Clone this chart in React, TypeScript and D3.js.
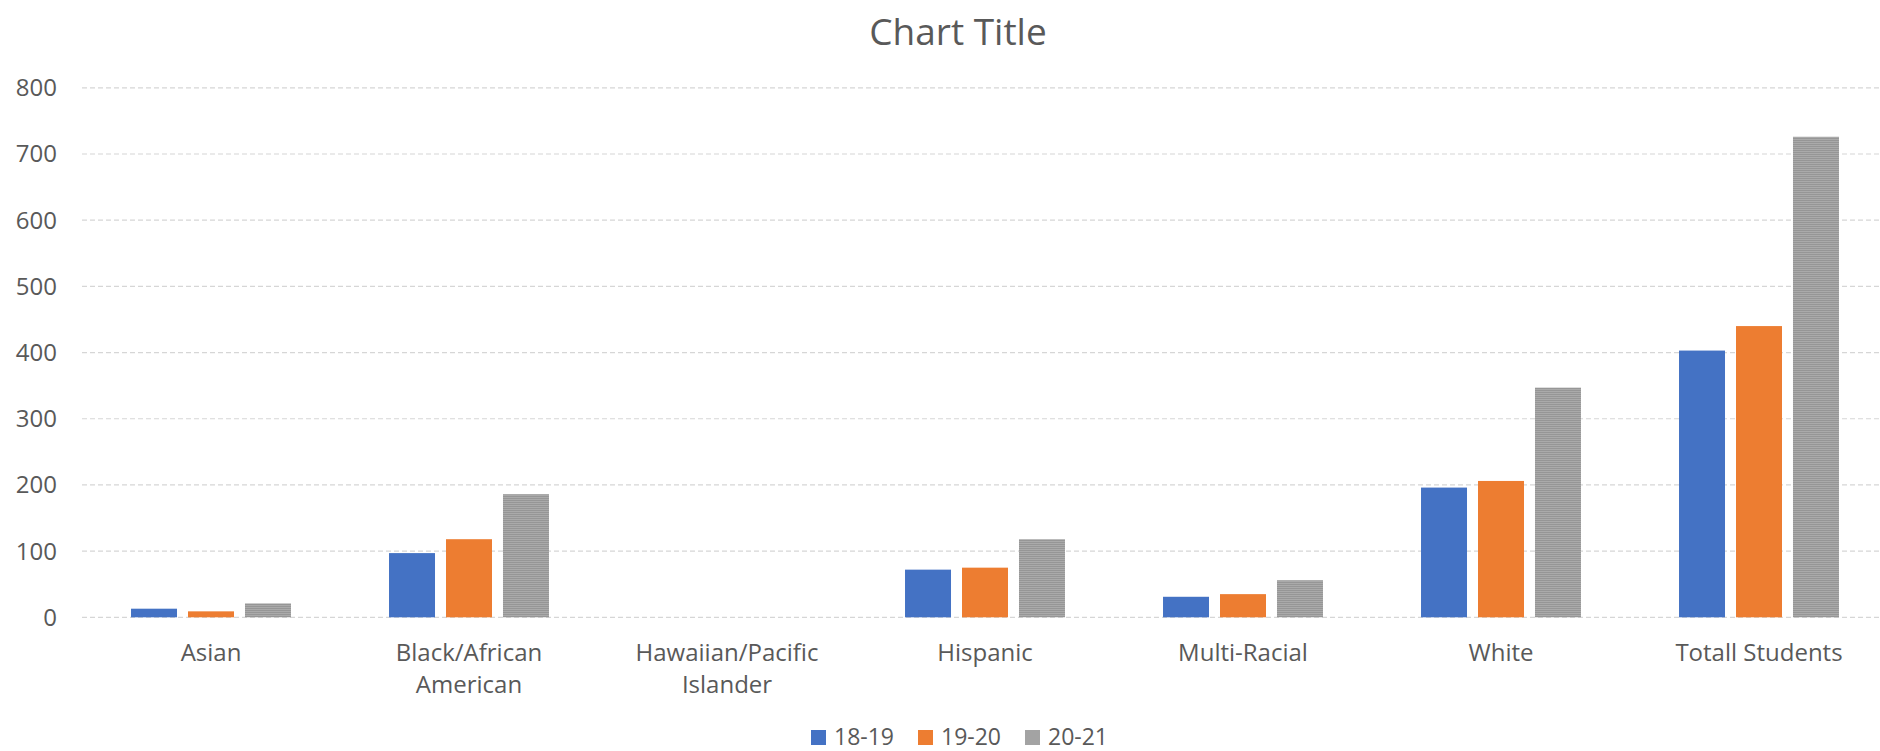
import React from "react";
import * as d3 from "d3";

// Enrollment by group, three school years
const categories = [
  "Asian",
  "Black/African American",
  "Hawaiian/Pacific Islander",
  "Hispanic",
  "Multi-Racial",
  "White",
  "Totall Students",
];
const seriesNames = ["18-19", "19-20", "20-21"];
const values1819 = [13, 97, 0, 72, 31, 196, 403];
const values1920 = [9, 118, 0, 75, 35, 206, 440];
const values2021 = [21, 186, 0, 118, 56, 347, 726];
const yTicks = [0, 100, 200, 300, 400, 500, 600, 700, 800];

const seriesValues = [values1819, values1920, values2021];
const seriesColors = ["#4472C4", "#ED7D31", "url(#grayTexture)"];
const legendColors = ["#4472C4", "#ED7D31", "#A3A3A3"];

const W = 1880;
const H = 751;
const FONT = "'Open Sans', 'Noto Sans', sans-serif";
const TEXT = "#595959";

const plotLeft = 82;
const step = 258;

// word-wrap an axis label to fit inside the category band
function wrapLabel(label: string, maxWidth: number, font: string): string[] {
  const canvas = document.createElement("canvas");
  const ctx = canvas.getContext("2d");
  if (!ctx) return [label];
  ctx.font = font;
  const words = label.split(" ");
  const lines: string[] = [];
  let cur = "";
  for (const w of words) {
    const test = cur ? cur + " " + w : w;
    if (cur && ctx.measureText(test).width > maxWidth) {
      lines.push(cur);
      cur = w;
    } else {
      cur = test;
    }
  }
  if (cur) lines.push(cur);
  return lines;
}

export default function App() {
  const x = d3
    .scaleBand<string>()
    .domain(categories)
    .range([plotLeft, plotLeft + step * categories.length])
    .paddingInner(0.38)
    .paddingOuter(0.19);

  const xInner = d3
    .scaleBand<string>()
    .domain(seriesNames)
    .range([0, x.bandwidth()])
    .paddingInner(0.193);

  const y = d3.scaleLinear().domain([0, 800]).range([617.3, 87.8]);

  const labelFont = `24px ${FONT}`;

  const legendStart = 811;
  const legendStep = 107;

  return (
    <svg
      width={W}
      height={H}
      style={{ position: "absolute", left: 0, top: 0, background: "#fff" }}
    >
      <defs>
        <pattern
          id="grayTexture"
          width={4}
          height={4}
          patternUnits="userSpaceOnUse"
        >
          <rect width={4} height={4} fill="#aaaaaa" />
          <path d="M0,0 L1,1 L2,0 L3,1 L4,0 M0,2 L1,3 L2,2 L3,3 L4,2" stroke="#969696" strokeWidth={1} fill="none" />
        </pattern>
      </defs>

      <text
        x={958}
        y={45}
        textAnchor="middle"
        fontFamily={FONT}
        fontSize={37}
        fill={TEXT}
      >
        Chart Title
      </text>

      {/* horizontal gridlines */}
      {yTicks.map((t) => (
        <line
          key={`g${t}`}
          x1={plotLeft}
          x2={W}
          y1={y(t)}
          y2={y(t)}
          stroke="#d6d6d6"
          strokeWidth={1.2}
          strokeDasharray="5,3"
        />
      ))}

      {/* y tick labels */}
      {yTicks.map((t) => (
        <text
          key={`t${t}`}
          x={57}
          y={y(t)}
          dy="0.35em"
          textAnchor="end"
          fontFamily={FONT}
          fontSize={24}
          fill={TEXT}
        >
          {t}
        </text>
      ))}

      {/* bars */}
      {seriesNames.map((s, si) => (
        <g key={s}>
          {categories.map((c, ci) => {
            const v = seriesValues[si][ci];
            if (!v) return null;
            return (
              <rect
                key={c}
                x={(x(c) ?? 0) + (xInner(s) ?? 0)}
                y={y(v)}
                width={xInner.bandwidth()}
                height={y(0) - y(v)}
                fill={seriesColors[si]}
              />
            );
          })}
        </g>
      ))}

      {/* category labels */}
      {categories.map((c) => {
        const cx = (x(c) ?? 0) + x.bandwidth() / 2;
        const lines = wrapLabel(c, step - 20, labelFont);
        return (
          <text
            key={c}
            x={cx}
            y={661}
            textAnchor="middle"
            fontFamily={FONT}
            fontSize={24}
            fill={TEXT}
          >
            {lines.map((ln, i) => (
              <tspan key={i} x={cx} dy={i === 0 ? 0 : 32}>
                {ln}
              </tspan>
            ))}
          </text>
        );
      })}

      {/* legend */}
      {seriesNames.map((s, si) => {
        const lx = legendStart + si * legendStep;
        return (
          <g key={`l${s}`}>
            <rect x={lx} y={730} width={15} height={15} fill={legendColors[si]} />
            <text
              x={lx + 23}
              y={745}
              fontFamily={FONT}
              fontSize={23}
              fill={TEXT}
            >
              {s}
            </text>
          </g>
        );
      })}
    </svg>
  );
}
